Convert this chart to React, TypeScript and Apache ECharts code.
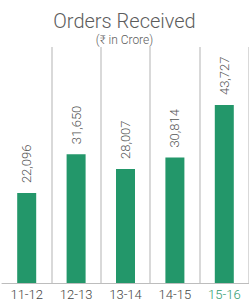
import React, { useEffect, useRef } from "react";
import * as echarts from "echarts";

const categories = ["11-12", "12-13", "13-14", "14-15", "15-16"];
const orders = [22096, 31650, 28007, 30814, 43727];
const titleText = "Orders Received";
const subtitleText = "(₹ in Crore)";

export default function App() {
  const ref = useRef<HTMLDivElement>(null);
  useEffect(() => {
    if (!ref.current) return;
    const chart = echarts.init(ref.current, null, { renderer: "svg" });
    chart.setOption({
      animation: false,
      backgroundColor: "#ffffff",
      title: {
        text: titleText,
        subtext: subtitleText,
        left: "center",
        top: 6,
        itemGap: 3,
        textStyle: { fontFamily: "Roboto", fontWeight: 300, fontSize: 20, color: "#5c5c5c" },
        subtextStyle: { fontFamily: "Roboto", fontWeight: 300, fontSize: 12, color: "#5c5c5c" },
      },
      grid: { left: 2, right: -3, top: 47, bottom: 19, containLabel: false },
      xAxis: {
        type: "category",
        data: categories,
        boundaryGap: true,
        axisLine: { show: true, lineStyle: { color: "#bdbdbd", width: 1 } },
        axisTick: { show: false },
        splitLine: {
          show: true,
          interval: (i: number) => i > 0,
          lineStyle: { color: "#cccccc", width: 1.5 },
        },
        axisLabel: {
          margin: 5,
          fontFamily: "Roboto",
          fontWeight: 300,
          fontSize: 13,
          color: (v: string, i: number) => (i === categories.length - 1 ? "#2e9a6c" : "#444444"),
        },
      },
      yAxis: {
        type: "value",
        min: 0,
        max: 58000,
        show: false,
        splitLine: { show: false },
      },
      series: [
        {
          type: "bar",
          data: orders,
          barWidth: 19,
          itemStyle: { color: "#23976a" },
          label: {
            show: true,
            position: "top",
            rotate: 90,
            align: "left",
            verticalAlign: "middle",
            distance: 10,
            fontFamily: "Roboto",
            fontWeight: 300,
            fontSize: 13,
            color: "#555555",
            formatter: (p: any) => p.value.toLocaleString("en-US"),
          },
        },
      ],
    });
    return () => chart.dispose();
  }, []);
  return (
    <div
      ref={ref}
      style={{ position: "fixed", left: 0, top: 0, width: 249, height: 302 }}
    />
  );
}
